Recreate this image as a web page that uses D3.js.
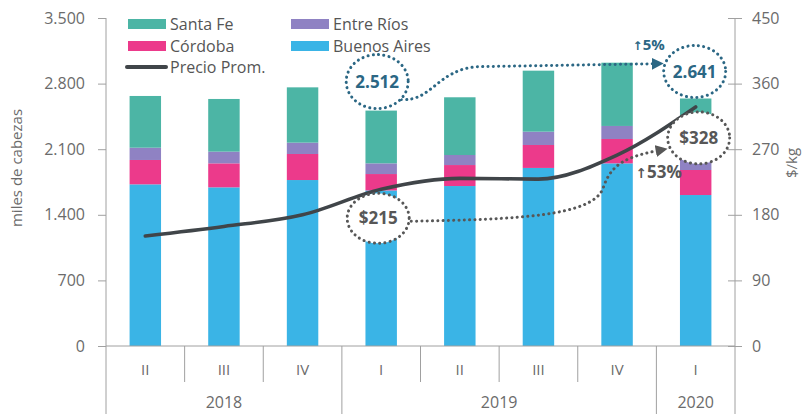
<!DOCTYPE html>
<html><head><meta charset="utf-8">
<script src="https://cdn.jsdelivr.net/npm/d3@7/dist/d3.min.js"></script>
<style>
body{margin:0;background:#fff;}
svg{display:block;font-family:"Open Sans",sans-serif;}
</style></head>
<body><svg id="c" width="804" height="414"></svg>
<script>
// ---- data ----
const categories = ["2018-II","2018-III","2018-IV","2019-I","2019-II","2019-III","2019-IV","2020-I"];
const quarterLabels = ["II","III","IV","I","II","III","IV","I"];
const years = [{label:"2018",first:0,last:2},{label:"2019",first:3,last:6},{label:"2020",first:7,last:7}];
const buenosAires = [1725,1693,1771,1660,1707,1900,1949,1611];
const cordoba     = [260,256,278,175,224,245,260,267];
const entreRios   = [131,125,121,114,107,142,139,120];
const santaFe     = [552,562,590,563,616,651,675,643];
const precioProm  = [151,164,180,215,230,229,262,328];
const leftTicks = [0,700,1400,2100,2800,3500];
const rightTicks = [0,90,180,270,360,450];
const seriesNames = ["Buenos Aires","Córdoba","Entre Ríos","Santa Fe"];
const colors = {"Buenos Aires":"#3ab4e6","Córdoba":"#ec3a8b","Entre Ríos":"#8f82c3","Santa Fe":"#4cb5a5"};

(function(){
const svg = d3.select("#c");
const pL=106, pR=735, pT=18, pB=346;
const x = d3.scaleBand().domain(categories).range([pL,pR]).paddingInner(0.6).paddingOuter(0.3);
const yL = d3.scaleLinear().domain([0,3500]).range([pB,pT]);
const yR = d3.scaleLinear().domain([0,450]).range([pB,pT]);
const step = x.step();
const cx = i => x(categories[i]) + x.bandwidth()/2;
const bound = i => i >= categories.length ? pR : cx(i) - step/2;

const rows = categories.map((c,i)=>({cat:c,"Buenos Aires":buenosAires[i],"Córdoba":cordoba[i],"Entre Ríos":entreRios[i],"Santa Fe":santaFe[i]}));
const stack = d3.stack().keys(seriesNames)(rows);
const totals = rows.map(r=>seriesNames.reduce((s,k)=>s+r[k],0));

const txtCol="#6b6b6b", axCol="#a0a0a0";

// bars
svg.append("g").selectAll("g").data(stack).join("g").attr("fill",d=>colors[d.key])
 .selectAll("rect").data(d=>d).join("rect")
 .attr("x",d=>x(d.data.cat)).attr("width",x.bandwidth())
 .attr("y",d=>yL(d[1])).attr("height",d=>yL(d[0])-yL(d[1]));

// left axis
const ga = svg.append("g").attr("transform",`translate(${pL},0)`)
 .call(d3.axisLeft(yL).tickValues(leftTicks).tickSize(8).tickPadding(13)
   .tickFormat(d=>d3.format(",")(d).replace(/,/g,".")));
ga.select(".domain").remove();
ga.selectAll("line").attr("stroke",axCol);
ga.selectAll("text").attr("fill",txtCol).style("font-size","16px").style("font-family","Open Sans");
svg.append("line").attr("x1",pL).attr("x2",pL).attr("y1",pT).attr("y2",414).attr("stroke",axCol);

// right axis
const gr = svg.append("g").attr("transform",`translate(${pR},0)`)
 .call(d3.axisRight(yR).tickValues(rightTicks).tickSize(7).tickPadding(10));
gr.select(".domain").remove();
gr.selectAll("line").attr("stroke",axCol).attr("x1",-7);
gr.selectAll("text").attr("fill",txtCol).style("font-size","16px").style("font-family","Open Sans");
svg.append("line").attr("x1",pR).attr("x2",pR).attr("y1",pT).attr("y2",414).attr("stroke",axCol);

// baseline and category separators
svg.append("line").attr("x1",pL).attr("x2",pR).attr("y1",pB).attr("y2",pB).attr("stroke",axCol);
const yearStarts = years.map(y=>y.first);
for(let i=1;i<categories.length;i++){
  const isYear = yearStarts.includes(i);
  svg.append("line").attr("x1",bound(i)).attr("x2",bound(i)).attr("y1",pB).attr("y2",isYear?414:382).attr("stroke",axCol);
}
svg.append("g").selectAll("text").data(quarterLabels).join("text")
 .attr("x",(d,i)=>cx(i)).attr("y",375).attr("text-anchor","middle")
 .attr("fill",txtCol).style("font-size","15px").text(d=>d);
svg.append("g").selectAll("text").data(years).join("text")
 .attr("x",d=>(bound(d.first)+bound(d.last+1))/2).attr("y",408).attr("text-anchor","middle")
 .attr("fill",txtCol).style("font-size","16px").text(d=>d.label);

// axis titles
svg.append("text").attr("transform","translate(22,168) rotate(-90)").attr("text-anchor","middle")
 .attr("fill",txtCol).style("font-size","15px").text("miles de cabezas");
svg.append("text").attr("transform","translate(797,163) rotate(-90)").attr("text-anchor","middle")
 .attr("fill",txtCol).style("font-size","15px").text("$/kg");

// price line
const line = d3.line().x((d,i)=>cx(i)).y(d=>yR(d)).curve(d3.curveMonotoneX);
svg.append("path").datum(precioProm).attr("d",line).attr("fill","none")
 .attr("stroke","#404549").attr("stroke-width",3.6).attr("stroke-linecap","round");

// legend
const leg = svg.append("g");
const legItems = [
 {name:"Santa Fe",x:128,y:24},{name:"Entre Ríos",x:291,y:24},
 {name:"Córdoba",x:128,y:46},{name:"Buenos Aires",x:291,y:46}];
legItems.forEach(it=>{
  leg.append("rect").attr("x",it.x).attr("y",it.y-5).attr("width",38).attr("height",10).attr("fill",colors[it.name]);
  leg.append("text").attr("x",it.x+42).attr("y",it.y+5.5).attr("fill","#555").style("font-size","16px").text(it.name);
});
leg.append("line").attr("x1",127).attr("x2",166).attr("y1",67).attr("y2",67).attr("stroke","#404549").attr("stroke-width",4).attr("stroke-linecap","round");
leg.append("text").attr("x",170).attr("y",72.5).attr("fill","#555").style("font-size","16px").text("Precio Prom.");

// annotations
const blue="#2b6784", gray="#575757";
const defs = svg.append("defs");
[["arB",blue],["arG",gray]].forEach(([id,c])=>{
  defs.append("marker").attr("id",id).attr("viewBox","0 0 10 10").attr("refX",5).attr("refY",5)
   .attr("markerWidth",12).attr("markerHeight",12).attr("markerUnits","userSpaceOnUse").attr("orient","auto")
   .append("path").attr("d","M0,0 L10,5 L0,10 Z").attr("fill",c);
});
const dot = (sel,c)=>sel.attr("fill","none").attr("stroke",c).attr("stroke-width",3).attr("stroke-linecap","round").attr("stroke-dasharray","0.1 5.2");

const c1 = {x:cx(3)-4, y:yL(totals[3])-29, rx:31, ry:27};
const c2 = {x:cx(7)-1, y:yL(totals[7])-27, rx:31, ry:26};
const c3 = {x:cx(3)-3, y:yR(precioProm[3])+29, rx:31, ry:25};
const c4 = {x:cx(7)+3, y:yR(precioProm[7])+31, rx:31, ry:26};

// 5% path
const topY = yL(totals[6])+1;
const p1 = d3.path();
p1.moveTo(c1.x+24, c1.y+18);
p1.bezierCurveTo(c1.x+55, c1.y+20, c1.x+60, topY+6, c1.x+100, topY+3);
p1.lineTo(c2.x-c2.rx-6, topY);
dot(svg.append("path").attr("d",p1.toString()),blue).attr("marker-end","url(#arB)");

// 53% path
const p2 = d3.path();
p2.moveTo(c3.x+c3.rx+2, c3.y+3);
p2.bezierCurveTo(cx(5)-20, c3.y+1, cx(6)-25, c3.y-2, cx(6)-14, c3.y-30);
p2.bezierCurveTo(cx(6)-6, c3.y-55, cx(6)+10, c3.y-62, c4.x-c4.rx-6, c4.y+12);
dot(svg.append("path").attr("d",p2.toString()),gray).attr("marker-end","url(#arG)");

[[c1,blue,"2.512"],[c2,blue,"2.641"],[c3,gray,"$215"],[c4,gray,"$328"]].forEach(([c,col,t])=>{
  dot(svg.append("ellipse").attr("cx",c.x).attr("cy",c.y).attr("rx",c.rx).attr("ry",c.ry),col).attr("fill","#fff");
  svg.append("text").attr("x",c.x).attr("y",c.y+6).attr("text-anchor","middle").attr("fill",col)
   .style("font-size","17px").style("font-weight","bold").text(t);
});
const pct = (tx,ty,col,size,label)=>{
  const t = svg.append("text").attr("x",tx).attr("y",ty).attr("text-anchor","middle").attr("fill",col)
   .style("font-size",size).style("font-weight","bold");
  t.append("tspan").style("font-family","DejaVu Sans").style("font-size","0.8em").text("↑");
  t.append("tspan").text(label);
};
pct(c2.x-46, c2.y-22, blue, "15px", "5%");
pct(c4.x-40, c4.y+40, gray, "17px", "53%");
})();
</script></body></html>
